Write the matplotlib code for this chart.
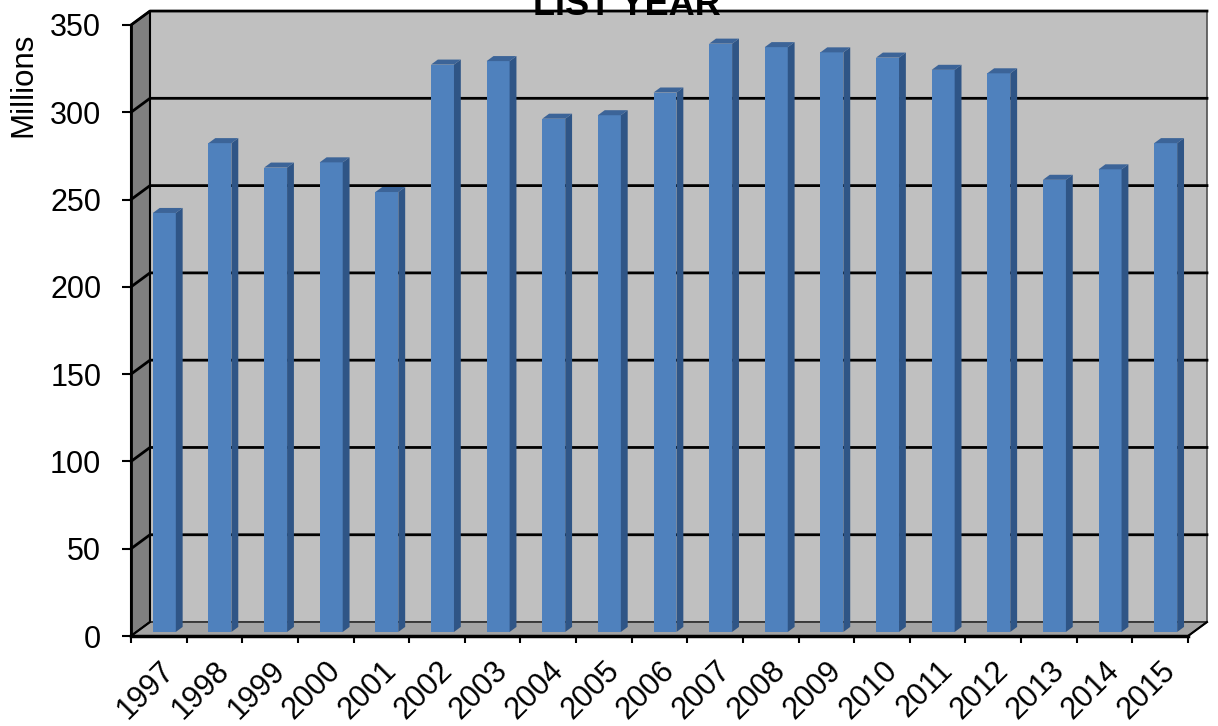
import numpy as np
import matplotlib.pyplot as plt
from matplotlib.patches import Polygon

plt.rcParams['font.family'] = ['Liberation Sans', 'DejaVu Sans']

years = ['1997', '1998', '1999', '2000', '2001', '2002', '2003', '2004', '2005', '2006',
         '2007', '2008', '2009', '2010', '2011', '2012', '2013', '2014', '2015']
values = [240, 280, 266, 269, 252, 325, 327, 294, 296, 309,
          337, 335, 332, 329, 322, 320, 259, 265, 280]
yticks = [0, 50, 100, 150, 200, 250, 300, 350]

n = len(years)
ymax = 350
# depth of the 3d box (x in category units, y in value units)
dx = 0.3415
dy = 8.0
f0 = 0.29   # front face of the bars, fraction of depth
f1 = 0.65   # back face of the bars
bw = 0.413

fig = plt.figure(figsize=(12.18, 7.26), dpi=100)
ax = fig.add_axes([131/1218, 90/726, 1057/1218, 611/726])
ax.set_xlim(0, n)
ax.set_ylim(0, ymax)
ax.patch.set_visible(False)

# walls and floor
side = Polygon([(0, 0), (dx, dy), (dx, ymax+dy), (0, ymax)], closed=True,
               fc='#808080', ec='black', lw=1.5, clip_on=False, zorder=1)
back = Polygon([(dx, dy), (n+dx, dy), (n+dx, ymax+dy), (dx, ymax+dy)], closed=True,
               fc='#c0c0c0', ec='#505050', lw=1.2, clip_on=False, zorder=1)
floor = Polygon([(0, 0), (n, 0), (n+dx, dy), (dx, dy)], closed=True,
                fc='#a4a4a4', ec='#303030', lw=1.2, clip_on=False, zorder=1)
ax.add_patch(back)
ax.add_patch(side)
ax.add_patch(floor)
ax.plot([0, dx], [0, dy], color='black', lw=1.5, clip_on=False, zorder=2)
ax.plot([n, n+dx], [0, dy], color='black', lw=1.5, clip_on=False, zorder=2)

# gridlines across side wall and back wall
for v in yticks[1:]:
    ax.plot([0, dx, n+dx], [v, v+dy, v+dy], color='black', lw=2, clip_on=False, zorder=2)

# bars
x0 = np.arange(n) + 0.5 + f0*dx
base = f0*dy
ddx = (f1-f0)*dx
ddy = (f1-f0)*dy
ax.bar(x0, values, width=bw, bottom=base, color='#4f81bd', zorder=3)
for i in range(n):
    xl = x0[i] - bw/2
    xr = x0[i] + bw/2
    top = base + values[i]
    ax.add_patch(Polygon([(xr, base), (xr+ddx, base+ddy), (xr+ddx, top+ddy), (xr, top)],
                         closed=True, fc='#2f5586', ec='none', zorder=3))
    ax.add_patch(Polygon([(xl, top), (xr, top), (xr+ddx, top+ddy), (xl+ddx, top+ddy)],
                         closed=True, fc='#3c6498', ec='none', zorder=3))

ax.spines['top'].set_visible(False)
ax.spines['right'].set_visible(False)
ax.spines['left'].set_linewidth(2)
ax.spines['bottom'].set_linewidth(2.5)
ax.spines['left'].set_zorder(4)
ax.spines['bottom'].set_zorder(4)

ax.set_yticks(yticks)
ax.tick_params(axis='y', direction='out', length=6.5, width=1.5, pad=15, labelsize=22)
ax.set_xticks(np.arange(n+1))
ax.set_xticklabels([])
ax.set_xticks(np.arange(n) + 0.5, minor=True)
ax.set_xticklabels(years, minor=True, rotation=45, ha='right', rotation_mode='anchor')
ax.tick_params(axis='x', which='major', direction='out', length=5, width=1.5)
ax.tick_params(axis='x', which='minor', length=0, labelsize=22, pad=14)

fig.text(627/1218, 1-15/726, 'LIST YEAR', ha='center', va='baseline',
         fontsize=26, fontweight='bold')
fig.text(23/1218, 1-85/726, 'Millions', ha='center', va='center',
         rotation=90, fontsize=22.5)

fig.savefig('out.png', dpi=100)
